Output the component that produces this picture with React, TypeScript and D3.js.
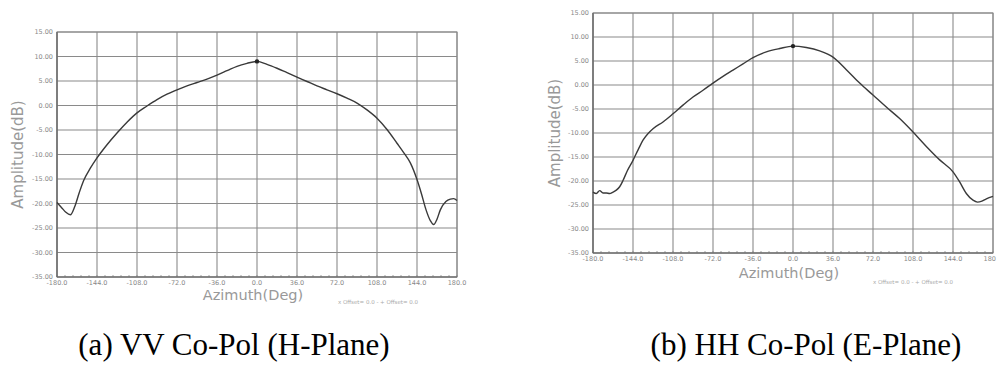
import * as d3 from "d3";

// azimuth (deg) and amplitude (dB)
const vvAz = [
  -180, -176, -172, -168, -164, -160, -156, -150, -144, -135, -126, -117, -108, -99, -90, -81, -72,
  -63, -54, -45, -36, -27, -18, -9, 0, 9, 18, 27, 36, 45, 54, 63, 72, 81, 90, 99, 108, 117, 126,
  132, 138, 144, 148, 152, 156, 159, 162, 165, 170, 174, 177, 180,
];
const vvAmp = [
  -19.8, -20.8, -21.8, -22.3, -20.6, -17.8, -15.3, -12.8, -10.7, -8.0, -5.6, -3.4, -1.5, -0.1, 1.2,
  2.3, 3.2, 4.0, 4.7, 5.4, 6.2, 7.1, 8.0, 8.6, 9.0, 8.4, 7.6, 6.7, 5.8, 4.9, 4.0, 3.2, 2.4, 1.5,
  0.5, -0.9, -2.6, -4.9, -7.7, -9.6, -11.7, -15.1, -18.0, -21.2, -23.5, -24.3, -23.2, -21.3, -19.6,
  -19.1, -19.0, -19.4,
];

const hhAz = [
  -180, -177, -174, -171, -168, -165, -162, -159, -156, -153, -149, -144, -139, -135, -130, -126,
  -117, -108, -99, -90, -81, -72, -63, -54, -45, -36, -24, -12, 0, 12, 24, 36, 48, 60, 72, 84, 96,
  108, 120, 132, 144, 150, 156, 162, 166, 170, 174, 180,
];
const hhAmp = [
  -22.3, -22.6, -22.0, -22.5, -22.5, -22.6, -22.3, -21.9, -21.2, -19.9, -17.8, -15.7, -13.3, -11.5,
  -10.0, -9.1, -7.7, -6.0, -4.2, -2.5, -1.1, 0.4, 1.8, 3.1, 4.4, 5.7, 6.9, 7.6, 8.1, 7.8, 7.1, 5.8,
  3.2, 0.4, -2.1, -4.6, -7.0, -9.8, -12.8, -15.6, -18.1, -20.2, -22.6, -24.0, -24.4, -24.2, -23.7,
  -23.2,
];

const xTicks = [-180, -144, -108, -72, -36, 0, 36, 72, 108, 144, 180];
const yTicks = [15, 10, 5, 0, -5, -10, -15, -20, -25, -30, -35];

const captions = ["(a) VV Co-Pol (H-Plane)", "(b) HH Co-Pol (E-Plane)"];

interface PanelProps {
  az: number[];
  amp: number[];
  left: number;
  right: number;
  top: number;
  bottom: number;
  yTitleX: number;
  xTitleY: number;
  legendX: number;
  legendY: number;
  clipLast?: boolean;
}

function Panel({ az, amp, left, right, top, bottom, yTitleX, xTitleY, legendX, legendY, clipLast }: PanelProps) {
  const x = d3.scaleLinear().domain([-180, 180]).range([left, right]);
  const y = d3.scaleLinear().domain([-35, 15]).range([bottom, top]);
  const idx = az.map((_, i) => i);
  const line = d3
    .line<number>()
    .x((i) => x(az[i]))
    .y((i) => y(amp[i]))
    .curve(d3.curveMonotoneX);
  const peak = d3.maxIndex(amp);
  const minor = d3.range(-180, 180.1, 7.2);

  return (
    <g>
      {xTicks.map((t) => (
        <line key={"vx" + t} x1={x(t)} x2={x(t)} y1={top} y2={bottom} stroke="#8a8a8a" strokeWidth={1.1} />
      ))}
      {yTicks.map((t) => (
        <line key={"hy" + t} x1={left} x2={right} y1={y(t)} y2={y(t)} stroke="#8a8a8a" strokeWidth={1.1} />
      ))}
      {minor.map((t) => (
        <line key={"m" + t} x1={x(t)} x2={x(t)} y1={bottom - 2} y2={bottom} stroke="#888" strokeWidth={0.8} />
      ))}
      <rect x={left} y={top} width={right - left} height={bottom - top} fill="none" stroke="#888" strokeWidth={1} />
      <line x1={left} x2={right} y1={bottom} y2={bottom} stroke="#666" strokeWidth={1.2} />
      <line x1={left} x2={left} y1={top} y2={bottom} stroke="#666" strokeWidth={1.2} />

      {yTicks.map((t) => (
        <text key={"yl" + t} x={left - 4} y={y(t) + 2} textAnchor="end" fontSize={6.5} fill="#888"
          fontFamily="DejaVu Sans">
          {t.toFixed(2)}
        </text>
      ))}
      {xTicks.map((t, i) => {
        const last = clipLast && i === xTicks.length - 1;
        return (
          <text key={"xl" + t} x={last ? x(t) + 3 : x(t)} y={bottom + 8} textAnchor={last ? "end" : "middle"}
            fontSize={6.5} fill="#888" fontFamily="DejaVu Sans">
            {last ? String(t) : t.toFixed(1)}
          </text>
        );
      })}

      <path d={line(idx) ?? ""} fill="none" stroke="#3a3a3a" strokeWidth={1.4} strokeLinejoin="round" />
      <circle cx={x(az[peak])} cy={y(amp[peak])} r={2.2} fill="#222" />

      <text
        transform={`translate(${yTitleX},${(top + bottom) / 2}) rotate(-90)`}
        textAnchor="middle"
        dominantBaseline="middle"
        fontSize={15}
        fill="#999"
        fontFamily="DejaVu Sans"
      >
        Amplitude(dB)
      </text>
      <text x={(left + right) / 2 - 4} y={xTitleY} textAnchor="middle" fontSize={14.5} fill="#999"
        fontFamily="DejaVu Sans">
        Azimuth(Deg)
      </text>
      <text x={legendX} y={legendY} fontSize={5.5} fill="#aaa" fontFamily="DejaVu Sans">
        x Offset= 0.0 - + Offset= 0.0
      </text>
    </g>
  );
}

export default function App() {
  return (
    <svg width={997} height={366} style={{ position: "absolute", left: 0, top: 0, background: "#fff" }}>
      <Panel az={vvAz} amp={vvAmp} left={57} right={457} top={32} bottom={277} yTitleX={18}
        xTitleY={300} legendX={338} legendY={304} />
      <Panel az={hhAz} amp={hhAmp} left={593} right={993} top={13} bottom={253} yTitleX={555}
        xTitleY={278} legendX={873} legendY={284} clipLast />
      <text x={234} y={355} textAnchor="middle" fontSize={31} fontFamily="Liberation Serif" fill="#000">
        {captions[0]}
      </text>
      <text x={806} y={355} textAnchor="middle" fontSize={31} fontFamily="Liberation Serif" fill="#000">
        {captions[1]}
      </text>
    </svg>
  );
}
